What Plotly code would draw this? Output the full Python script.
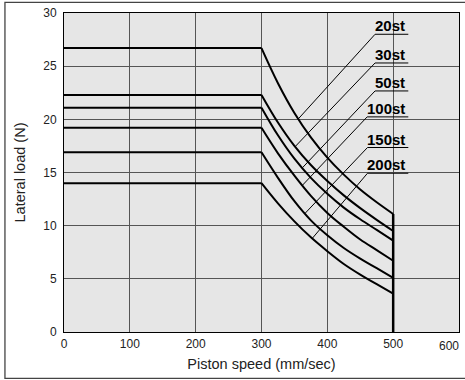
import numpy as np
import plotly.graph_objects as go

# Piston speed (mm/sec)
speed_flat = [0, 300]
speed_curve = [300, 325, 350, 375, 400, 425, 450, 475, 500]
speed_ticks = [0, 100, 200, 300, 400, 500, 600]

# Lateral load (N) per stroke
strokes = ['20st', '30st', '50st', '100st', '150st', '200st']
load_20st = [26.7, 23.4, 20.6, 18.3, 16.4, 14.8, 13.4, 12.2, 11.1]
load_30st = [22.3, 19.7, 17.5, 15.7, 14.2, 12.85, 11.65, 10.55, 9.5]
load_50st = [21.1, 18.5, 16.3, 14.5, 13.0, 11.7, 10.6, 9.6, 8.6]
load_100st = [19.2, 16.8, 14.7, 12.8, 11.2, 9.9, 8.7, 7.7, 6.7]
load_150st = [16.9, 14.5, 12.3, 10.5, 9.1, 7.9, 6.9, 6.0, 5.1]
load_200st = [14.0, 12.1, 10.4, 8.9, 7.6, 6.4, 5.4, 4.5, 3.6]
loads = [load_20st, load_30st, load_50st, load_100st, load_150st, load_200st]

# where each label's leader touches its curve
leader_speed = [356, 351, 362, 362, 366, 377]

font = 'Liberation Sans, Arial, sans-serif'
fig = go.Figure()

for name, load in zip(strokes, loads):
    fig.add_trace(go.Scatter(x=speed_flat, y=[load[0], load[0]], mode='lines',
                             line=dict(color='black', width=2), name=name))
    fig.add_trace(go.Scatter(x=speed_curve, y=load, mode='lines',
                             line=dict(color='black', width=2, shape='spline'), name=name))

# speed limit line at 500 mm/sec
fig.add_trace(go.Scatter(x=[speed_curve[-1], speed_curve[-1]], y=[0, max(l[-1] for l in loads)],
                         mode='lines', line=dict(color='black', width=2.5)))

# label placement (data units)
label_load = [28.0, 25.3, 22.67, 20.23, 17.35, 14.93]
label_left = [472.5, 472.5, 472.5, 460.5, 461, 461]
label_right = 523

for name, load, ls, ly, lx in zip(strokes, loads, leader_speed, label_load, label_left):
    y_hit = float(np.interp(ls, speed_curve, load))
    fig.add_trace(go.Scatter(x=[ls, lx, label_right], y=[y_hit, ly, ly], mode='lines',
                             line=dict(color='black', width=1)))
    fig.add_annotation(x=label_right, y=ly, text='<b>%s</b>' % name, showarrow=False,
                       xanchor='right', yanchor='bottom', yshift=-2, xshift=-1,
                       font=dict(family=font, size=15, color='black'))

# last x tick label sits inside the frame
fig.add_annotation(x=speed_ticks[-1], y=0, yref='paper', text=str(speed_ticks[-1]),
                   showarrow=False, xanchor='right', yanchor='top', xshift=2, yshift=-5,
                   font=dict(family=font, size=12, color='#222'))

fig.add_shape(type='rect', xref='paper', yref='paper',
              x0=-0.1495, x1=1.02, y0=-0.1451, y1=1.0335,
              line=dict(color='#444', width=1.3))

axis = dict(showgrid=True, gridcolor='#555', gridwidth=1, zeroline=False,
            showline=True, linecolor='black', linewidth=1, mirror=True, automargin=False,
            ticks='outside', tickcolor='rgba(0,0,0,0)',
            tickfont=dict(family=font, size=12, color='#222'))

fig.update_layout(
    width=465, height=380,
    margin=dict(l=64, r=6, t=13, b=48),
    paper_bgcolor='white', plot_bgcolor='#e6e6e6',
    showlegend=False,
    xaxis=dict(axis, range=[0, 600], tickvals=speed_ticks,
               ticktext=[str(v) for v in speed_ticks[:-1]] + [''], ticklen=0.5,
               title=dict(text='Piston speed (mm/sec)', standoff=8,
                          font=dict(family=font, size=14.5, color='#222'))),
    yaxis=dict(axis, range=[0, 30], dtick=5, ticklen=4,
               title=dict(text='Lateral load (N)', standoff=14,
                          font=dict(family=font, size=14.5, color='#222'))),
)

fig.write_html('out.html', config={'displayModeBar': False},
               post_script="document.body.style.margin='0';")
